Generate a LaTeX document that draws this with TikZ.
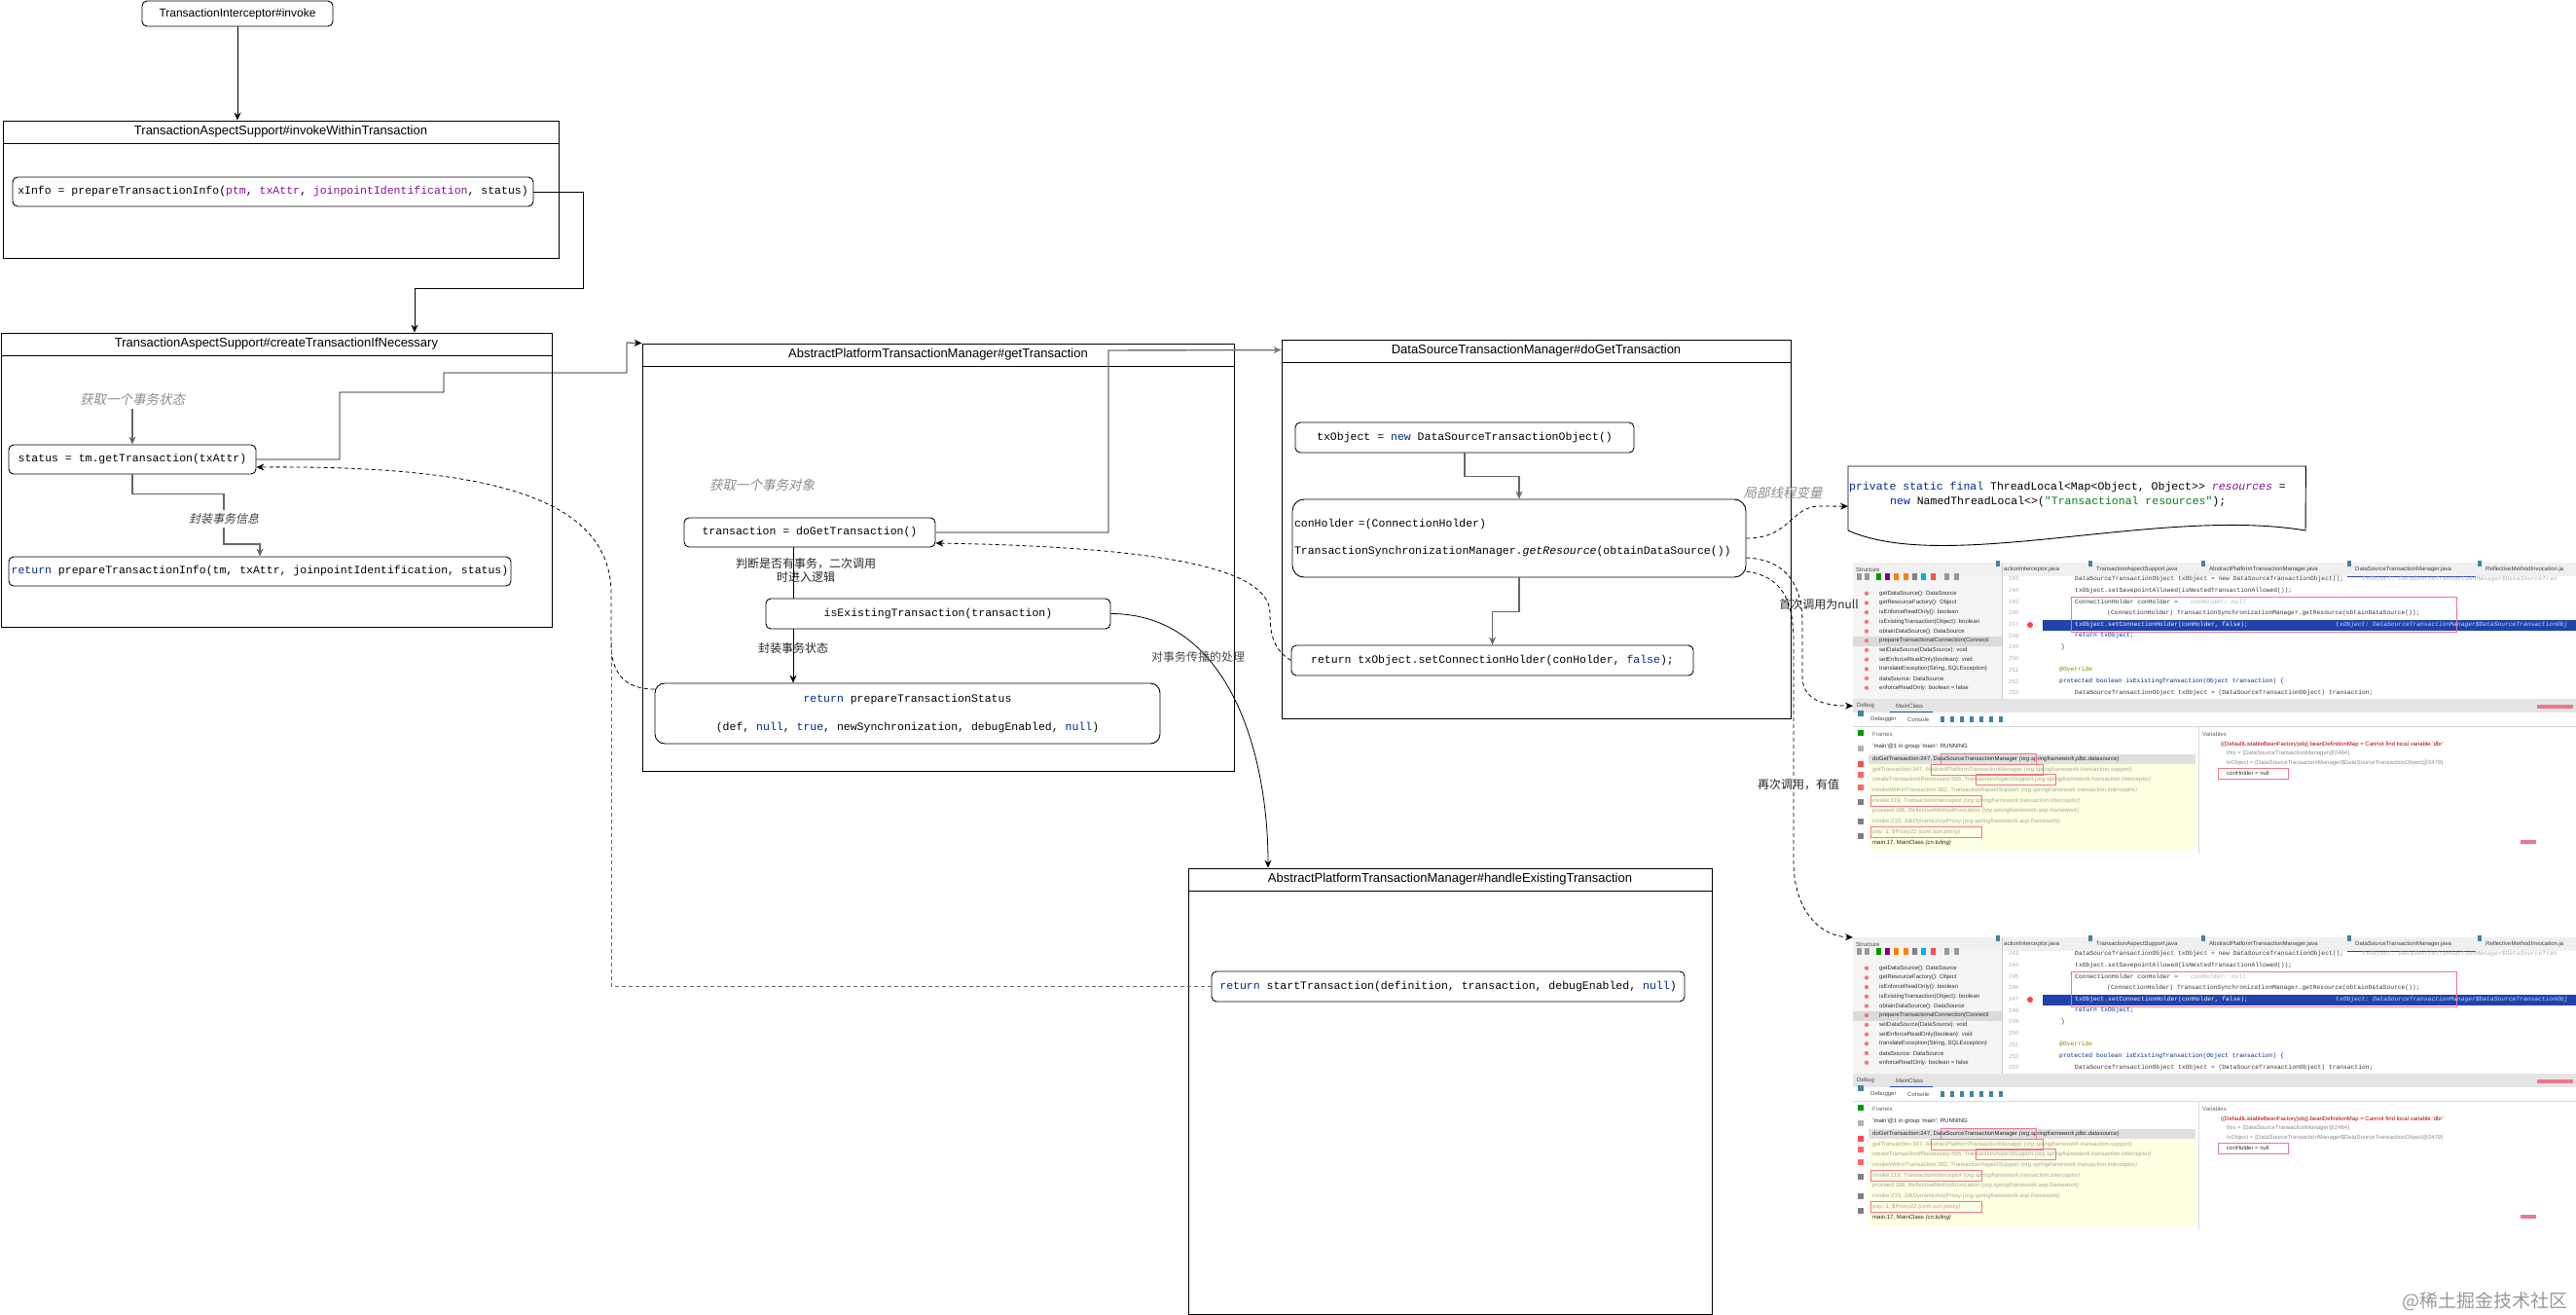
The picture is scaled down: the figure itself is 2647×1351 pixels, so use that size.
\documentclass[tikz,border=0pt]{standalone}
\usepackage{fontspec}
\setsansfont{Liberation Sans}
\setmonofont{Liberation Mono}
\newfontfamily\cjk{Noto Sans CJK SC}
\newfontfamily\cjkit[FakeSlant=0.22]{Noto Sans CJK SC}
\usepackage{xcolor}
\usepackage{tikz}
\usetikzlibrary{arrows.meta,positioning,calc}

\definecolor{kwblue}{RGB}{0,40,140}
\definecolor{varpurple}{RGB}{135,16,148}
\definecolor{strgreen}{RGB}{6,125,23}
\definecolor{idesel}{RGB}{33,66,171}
\definecolor{idepink}{RGB}{236,120,140}
\definecolor{ideyellow}{RGB}{255,255,226}

\newcommand{\jkw}[1]{\textcolor{kwblue}{#1}}
\newcommand{\jvar}[1]{\textcolor{varpurple}{#1}}

\tikzset{
  lane/.style={draw, line width=0.9pt, inner sep=0pt},
  lanehead/.style={draw, line width=0.9pt, inner sep=0pt, font=\sffamily\fontsize{13}{15}\selectfont},
  call/.style={draw, fill=white, rounded corners=5pt, line width=0.9pt, inner sep=1pt, font=\ttfamily\fontsize{11.5}{15}\selectfont},
  flow/.style={line width=0.8pt, -{Stealth[length=8pt,width=7pt]}},
  gflow/.style={draw=black!60, line width=1.4pt, -{Stealth[length=8pt,width=7pt]}},
  back/.style={dash pattern=on 4pt off 3pt, line width=0.8pt, -{Stealth[length=8pt,width=7pt]}},
  note/.style={font=\cjkit\fontsize{13.5}{15}\selectfont, text=black!45},
  lbl/.style={font=\cjk\fontsize{12}{14}\selectfont, text=black!85},
  ide/.style={anchor=west, inner sep=0pt, font=\sffamily\fontsize{6}{7}\selectfont},
  idecode/.style={anchor=west, inner sep=0pt, font=\ttfamily\fontsize{6.3}{7}\selectfont}
}

\newcommand{\ideshot}[1]{%
  \fill[white] (0,0) rectangle (743,300);
  \node[fill=black!6, minimum width=743pt, minimum height=14pt, inner sep=0pt, anchor=north west] (#1bar) at (0,0) {};
  \fill[black!4] (0,14) rectangle (153,140);
  \fill[black!14] (0,76) rectangle (153,86);
  \draw[black!20] (153,0) -- (153,140);
  \node[ide, text=black!70] at (3,7) {Structure};
  \foreach \x/\txt in {155/actionInterceptor.java, 250/TransactionAspectSupport.java, 366/AbstractPlatformTransactionManager.java, 516/DataSourceTransactionManager.java, 650/ReflectiveMethodInvocation.ja} {
    \fill[cyan!60!black] (\x-8,4) rectangle ++(4,-6);
    \node[ide, text=black!75] at (\x,7) {\txt};
  }
  \draw[idesel, line width=1pt] (508,14) -- (640,14);
  \foreach \x/\col in {4/black!40,12/black!40,24/green!60!black,33/violet,42/orange,52/orange,61/black!50,70/cyan,80/red!70,94/black!40,104/black!40}
    \fill[\col] (\x,18) rectangle ++(5,-7);
  \foreach \txt [count=\i] in {getDataSource(): DataSource, getResourceFactory(): Object, isEnforceReadOnly(): boolean, isExistingTransaction(Object): boolean, obtainDataSource(): DataSource, prepareTransactionalConnection(Connecti, setDataSource(DataSource): void, setEnforceReadOnly(boolean): void, {translateException(String, SQLException)}, dataSource: DataSource, enforceReadOnly: boolean = false} {
    \fill[red!55] (14,{22+9.7*\i}) circle (2.2pt);
    \node[ide, text=black!80] at (27,{22+9.7*\i}) {\txt};
  }
  \foreach \n [count=\i] in {243,244,245,246,247,248,249,250,251,252,253}
    \node[ide, text=black!30] at (160,{5+11.7*\i}) {\n};
  \fill[idesel] (195,59) rectangle (743,70);
  \fill[red!75] (182,64) circle (3pt);
  \node[idecode, text=black!80] at (228,17) {DataSourceTransactionObject txObject = new DataSourceTransactionObject();};
  \node[idecode, text=black!30] at (523,17) {\textit{txObject: DataSourceTransactionManager\$DataSourceTran}};
  \node[idecode, text=black!80] at (228,29) {txObject.setSavepointAllowed(isNestedTransactionAllowed());};
  \node[idecode, text=black!80] at (228,40) {ConnectionHolder conHolder =};
  \node[idecode, text=black!30] at (347,40) {\textit{conHolder: null}};
  \node[idecode, text=black!80] at (261,52) {(ConnectionHolder) TransactionSynchronizationManager.getResource(obtainDataSource());};
  \node[idecode, text=white] at (228,64) {txObject.setConnectionHolder(conHolder, false);};
  \node[idecode, text=cyan!30] at (496,64) {\textit{txObject: DataSourceTransactionManager\$DataSourceTransactionObj}};
  \node[idecode, text=kwblue] at (228,75) {return txObject;};
  \node[idecode, text=black!80] at (214,87) {\}};
  \node[idecode, text=olive] at (212,110) {@Override};
  \node[idecode, text=kwblue] at (212,122) {protected boolean isExistingTransaction(Object transaction) \{};
  \node[idecode, text=black!80] at (228,134) {DataSourceTransactionObject txObject = (DataSourceTransactionObject) transaction;};
  \draw[idepink, line width=0.8pt] (224,35) rectangle (620,71);
  \node[fill=black!10, minimum width=743pt, minimum height=14pt, inner sep=0pt, anchor=north west] (#1dbg) at (0,140) {};
  \node[ide, text=black!70] at (4,147) {Debug};
  \node[ide, text=black!70] at (44,147) {MainClass};
  \draw[idesel] (38,153) -- (82,153);
  \fill[idepink] (703,146) rectangle (740,150);
  \node[ide, text=black!70] at (18,161) {Debugger};
  \node[ide, text=black!70] at (56,161) {Console};
  \foreach \x in {90,100,110,120,130,140,150}
    \fill[cyan!60!black] (\x,164) rectangle ++(4,-6);
  \draw[black!15] (0,168) -- (743,168);
  \draw[black!15] (355,168) -- (355,300);
  \node[ide, text=black!60] at (20,176) {Frames};
  \node[ide, text=black!60] at (359,176) {Variables};
  \fill[ideyellow] (16,207) rectangle (352,296);
  \fill[black!12] (16,197) rectangle (352,207);
  \foreach \y/\txt/\col in {
    189/{'main'@1 in group 'main': RUNNING}/black!85,
    202/{doGetTransaction:247, DataSourceTransactionManager \textit{(org.springframework.jdbc.datasource)}}/black!85,
    213/{getTransaction:347, AbstractPlatformTransactionManager \textit{(org.springframework.transaction.support)}}/black!35,
    223/{createTransactionIfNecessary:595, TransactionAspectSupport \textit{(org.springframework.transaction.interceptor)}}/black!35,
    234/{invokeWithinTransaction:382, TransactionAspectSupport \textit{(org.springframework.transaction.interceptor)}}/black!35,
    245/{invoke:119, TransactionInterceptor \textit{(org.springframework.transaction.interceptor)}}/black!35,
    255/{proceed:186, ReflectiveMethodInvocation \textit{(org.springframework.aop.framework)}}/black!35,
    266/{invoke:215, JdkDynamicAopProxy \textit{(org.springframework.aop.framework)}}/black!35,
    277/{pay:-1, \$Proxy22 \textit{(com.sun.proxy)}}/black!35,
    288/{main:17, MainClass \textit{(cn.tuling)}}/black!85}
    \node[ide, text=\col] at (20,\y) {\txt};
  \foreach \a/\b/\y in {90/188/202, 80/195/213, 126/208/223, 18/132/245, 18/132/277}
    \draw[idepink, line width=0.7pt] (\a,\y-5.5) rectangle (\b,\y+5.5);
  \node[ide, text=red!70!black] at (378,187) {((DefaultListableBeanFactory)obj).beanDefinitionMap = Cannot find local variable 'dbr'};
  \node[ide, text=black!45] at (384,196) {this = \{DataSourceTransactionManager@2464\}};
  \node[ide, text=black!45] at (384,206) {txObject = \{DataSourceTransactionManager\$DataSourceTransactionObject@2479\}};
  \node[ide, text=black!80] at (384,216) {conHolder = null};
  \draw[idepink, line width=0.7pt] (375,211) rectangle (447,222);
  \fill[idepink] (686,285) rectangle (702,289);
  \foreach \y/\col in {161/cyan!60!black, 181/green!60!black, 197/black!30, 213/red!70, 224/red!60, 237/red!60, 252/black!50, 272/black!50, 287/black!50}
    \fill[\col] (5,\y-3) rectangle ++(6,-6);
}

\begin{document}
\begin{tikzpicture}[x=1pt,y=-1pt]
  \useasboundingbox (0,0) rectangle (2647,1351);

  \node[call, font=\sffamily\fontsize{12}{14}\selectfont, minimum width=196pt, minimum height=26pt] (invoke) at (244,14) {TransactionInterceptor\#invoke};

  \node[lane, minimum width=571pt, minimum height=141pt] (laneB) at (288.5,194.5) {};
  \node[lanehead, minimum width=571pt, minimum height=23pt, anchor=north] (laneBh) at (laneB.north) {TransactionAspectSupport\#invokeWithinTransaction};
  \node[call, minimum width=535pt, minimum height=30pt] (xInfo) at (280.5,197) {xInfo = prepareTransactionInfo(\jvar{ptm}, \jvar{txAttr}, \jvar{joinpointIdentification}, status)};

  \node[lane, minimum width=566pt, minimum height=302pt] (laneC) at (284,493) {};
  \node[lanehead, minimum width=566pt, minimum height=23pt, anchor=north] (laneCh) at (laneC.north) {TransactionAspectSupport\#createTransactionIfNecessary};
  \node[note] (lblState) at (136,410) {获取一个事务状态};
  \node[call, minimum width=254pt, minimum height=30pt] (status) at (136,472) {status = tm.getTransaction(txAttr)};
  \node[call, minimum width=516pt, minimum height=30pt] (retInfo) at (267,587) {\jkw{return} prepareTransactionInfo(tm, txAttr, joinpointIdentification, status)};

  \node[lane, minimum width=608pt, minimum height=439pt] (laneD) at (964,572.5) {};
  \node[lanehead, minimum width=608pt, minimum height=23pt, anchor=north] (laneDh) at (laneD.north) {AbstractPlatformTransactionManager\#getTransaction};
  \node[note] (lblObj) at (783,498) {获取一个事务对象};
  \node[call, minimum width=258pt, minimum height=30pt] (trans) at (832,547) {transaction = doGetTransaction()};
  \node[call, minimum width=354pt, minimum height=31pt] (isExist) at (964,630.5) {isExistingTransaction(transaction)};
  \node[call, rounded corners=10pt, minimum width=519pt, minimum height=62pt, align=center] (psts) at (932.5,733) {\jkw{return} prepareTransactionStatus\\[14pt](def, \jkw{null}, \jkw{true}, newSynchronization, debugEnabled, \jkw{null})};
  \node[lbl, align=center] (lblJudge) at (828,586) {判断是否有事务，二次调用\\时进入逻辑};
  \coordinate (jx) at (815,0);

  \node[lane, minimum width=523pt, minimum height=389pt] (laneE) at (1578.5,543.5) {};
  \node[lanehead, minimum width=523pt, minimum height=23pt, anchor=north] (laneEh) at (laneE.north) {DataSourceTransactionManager\#doGetTransaction};
  \node[call, minimum width=348pt, minimum height=31pt] (txObj) at (1505,449.5) {txObject = \jkw{new} DataSourceTransactionObject()};
  \node[call, rounded corners=12pt, minimum width=466pt, minimum height=80pt, text width=462pt, align=left] (conHolder) at (1561,553) {conHolder =(ConnectionHolder)\\[13pt]TransactionSynchronizationManager.\textit{getResource}(obtainDataSource())};
  \node[call, minimum width=413pt, minimum height=31pt] (retTx) at (1533.5,678.5) {return txObject.setConnectionHolder(conHolder, \jkw{false});};

  \node[lane, minimum width=538pt, minimum height=458pt] (laneF) at (1490,1121) {};
  \node[lanehead, minimum width=538pt, minimum height=23pt, anchor=north] (laneFh) at (laneF.north) {AbstractPlatformTransactionManager\#handleExistingTransaction};
  \node[call, minimum width=486pt, minimum height=31pt] (retStart) at (1488,1013.5) {\jkw{return} startTransaction(definition, transaction, debugEnabled, \jkw{null})};

  \node[minimum width=470pt, minimum height=70pt, inner sep=0pt, anchor=north west] (tlDoc) at (1899,479) {};
  \draw[line width=0.9pt, fill=white] (tlDoc.north west) -- (tlDoc.north east) -- (2369,545) .. controls (2220,520) and (2000,590) .. (1899,545) -- cycle;
  \node[anchor=west, align=left, inner sep=0pt, font=\ttfamily\fontsize{11.5}{15}\selectfont] (tlCode) at (1900,508.5) {\jkw{private static final} ThreadLocal<Map<Object, Object>> \textit{\jvar{resources}} =\\\hspace*{42pt}\jkw{new} NamedThreadLocal<>(\textcolor{strgreen}{"Transactional resources"});};
  \node[note] (lblLocal) at (1832,506) {局部线程变量};

  \begin{scope}[shift={(1904,578)}]
    \ideshot{ide1}
  \end{scope}
  \begin{scope}[shift={(1904,963)}]
    \ideshot{ide2}
  \end{scope}

  \draw[flow] (invoke.south) -- (laneB.north -| invoke.south);
  \draw[flow] (xInfo.east) -| (599,296) -| ([xshift=142pt]laneC.north);
  \draw[gflow] (lblState.south) -- (status.north);
  \draw[gflow] (status.south) -- ++(0,20) -| node[lbl, pos=0.75, fill=white, font=\cjkit\fontsize{12}{14}\selectfont, text=black!75] (lblInfo) {封装事务信息} (230,559) -| (retInfo.north);
  \draw[flow] (status.east) -| (349,403) -| (456,383) -| (644,352) -- (laneD.north west);
  \draw[draw=black!55, line width=1.4pt, -{Stealth[length=8pt,width=7pt]}] (trans.east) -| (1139,360) -- ([yshift=-11pt]laneE.north west);
  \draw[line width=0.8pt] (trans.south -| jx) -- (isExist.north -| jx);
  \draw[flow] (isExist.south -| jx) -- node[lbl, pos=0.36] (lblStatus) {封装事务状态} (psts.north -| jx);
  \draw[flow] (isExist.east) to[out=0, in=90] ([xshift=-187pt]laneF.north);
  \node[lbl, text=black!70] (lblProp) at (1231,675) {对事务传播的处理};
  \draw[gflow] (txObj.south) -- ++(0,24) -| (conHolder.north);
  \draw[gflow] (conHolder.south) -- ++(0,35) -| (retTx.north);

  \draw[back] (retTx.west) .. controls (1310,668) and (1305,655) .. (1305,630) .. controls (1305,585) and (1200,562) .. ([yshift=-11pt]trans.east);
  \draw[back] ([yshift=25pt]psts.west) .. controls (640,708) and (628,690) .. (628,660) -- (628,610) .. controls (628,510) and (500,478) .. ([yshift=-8pt]status.east);
  \draw[dash pattern=on 4pt off 3pt, line width=0.8pt, draw=black!60] (retStart.west) -| (628,660);

  \draw[back] (conHolder.east) .. controls (1840,553) and (1840,520) .. (1870,520) -- ([yshift=-6pt]tlDoc.west);
  \draw[back] ([yshift=-20pt]conHolder.east) .. controls (1835,575) and (1852,600) .. (1852,640) -- (1852,695) .. controls (1852,718) and (1872,725) .. (ide1dbg.west);
  \node[lbl] (lblFirst) at (1869,621) {首次调用为null};
  \draw[back] ([yshift=-34pt]conHolder.east) .. controls (1830,592) and (1843,615) .. (1843,660) -- (1843,885) .. controls (1843,935) and (1870,962) .. (ide2bar.north west);
  \node[lbl] (lblAgain) at (1848,806) {再次调用，有值};

  \node[font=\cjk\fontsize{19}{21}\selectfont, text=black!40, anchor=east] (mark) at (2642,1337) {@稀土掘金技术社区};
\end{tikzpicture}
\end{document}
